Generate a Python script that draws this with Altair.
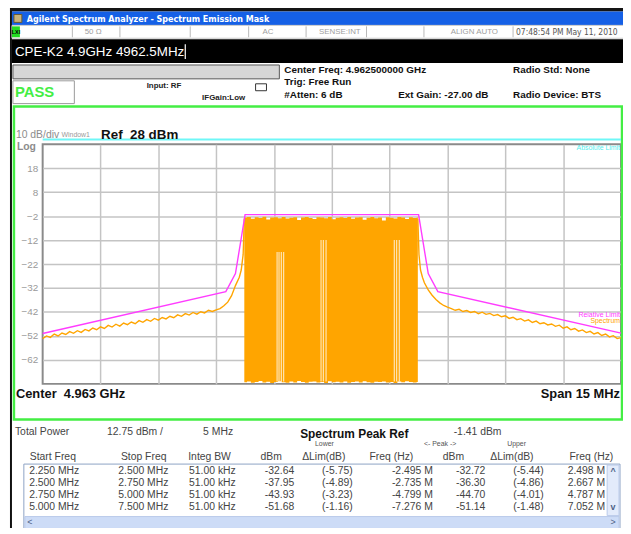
import altair as alt
import pandas as pd

# ---------------- data ----------------
# Relative limit mask (offset from centre in MHz, level in dBm)
mask_f = [-7.5, -2.75, -2.5, -2.25, 2.25, 2.5, 2.75, 7.5]
mask_db = [-51.0, -33.5, -26.0, -1.4, -1.4, -26.0, -33.5, -50.8]

# Absolute limit (drawn just above the top line)
abs_f = [-7.5, 7.5]
abs_db = [30.0, 30.0]

# Spectrum trace, lower side
left_f = [-7.5, -7.4, -7.3, -7.2, -7.1, -7.0, -6.9, -6.8, -6.7, -6.6, -6.5, -6.4, -6.3, -6.2, -6.1,
          -6.0, -5.9, -5.8, -5.7, -5.6, -5.5, -5.4, -5.3, -5.2, -5.1, -5.0, -4.9, -4.8, -4.7, -4.6,
          -4.5, -4.4, -4.3, -4.2, -4.1, -4.0, -3.9, -3.8, -3.7, -3.6, -3.5, -3.4, -3.3, -3.2, -3.1,
          -3.0, -2.9, -2.8, -2.7, -2.6, -2.5, -2.4, -2.35, -2.3, -2.27]
left_db = [-53.1, -52.0, -52.6, -51.2, -52.0, -50.8, -51.4, -50.2, -50.9, -49.8, -50.5, -49.3, -49.9, -48.7, -49.4,
           -48.2, -48.9, -47.6, -48.3, -47.1, -47.9, -46.6, -47.3, -46.2, -46.9, -45.6, -46.3, -45.2, -45.9, -44.7,
           -45.4, -44.3, -44.9, -43.8, -44.4, -43.2, -43.8, -42.7, -43.3, -42.2, -42.9, -41.9, -42.4, -41.3, -41.8,
           -41.1, -40.6, -39.4, -37.9, -35.2, -31.0, -27.5, -24.5, -18.0, -3.0]

# Spectrum trace, upper side
right_f = [2.23, 2.26, 2.3, 2.35, 2.4, 2.5, 2.6, 2.7, 2.8, 2.9, 3.0, 3.1,
           3.2, 3.3, 3.4, 3.5, 3.6, 3.7, 3.8, 3.9, 4.0, 4.1, 4.2, 4.3, 4.4, 4.5, 4.6, 4.7,
           4.8, 4.9, 5.0, 5.1, 5.2, 5.3, 5.4, 5.5, 5.6, 5.7, 5.8, 5.9, 6.0, 6.1, 6.2, 6.3,
           6.4, 6.5, 6.6, 6.7, 6.8, 6.9, 7.0, 7.1, 7.2, 7.3, 7.4, 7.5]
right_db = [-3.0, -18.0, -24.5, -27.5, -29.8, -32.8, -35.0, -36.8, -38.2, -39.3, -40.0, -40.6,
            -41.3, -40.9, -41.8, -41.4, -42.2, -41.8, -42.7, -42.1, -43.0, -42.6, -43.5, -43.1, -44.0, -43.6, -44.7, -44.2,
            -45.2, -44.8, -45.8, -45.3, -46.4, -45.8, -46.9, -46.5, -47.4, -47.0, -48.0, -47.5, -48.8, -48.2, -49.4, -48.9,
            -50.0, -49.5, -50.6, -50.1, -51.2, -50.6, -51.8, -51.2, -52.4, -51.9, -53.1, -52.7]

# In-band (occupied channel) envelope
inband_f = [-2.27, -2.2, -2.1, -2.0, -1.9, -1.8, -1.7, -1.6, -1.5, -1.4, -1.3, -1.2, -1.1, -1.0, -0.9, -0.8,
            -0.7, -0.6, -0.5, -0.4, -0.3, -0.2, -0.1, 0.0, 0.1, 0.2, 0.3, 0.4, 0.5, 0.6, 0.7, 0.8,
            0.9, 1.0, 1.1, 1.2, 1.3, 1.4, 1.5, 1.6, 1.7, 1.8, 1.9, 2.0, 2.1, 2.2, 2.23]
inband_top = [-2.6, -2.4, -3.1, -2.5, -2.8, -2.3, -3.4, -2.6, -2.5, -2.9, -2.4, -3.0, -2.7, -2.5, -3.6, -2.6,
              -2.4, -2.8, -3.2, -2.5, -2.6, -2.9, -2.4, -3.3, -2.7, -2.5, -2.8, -2.4, -3.1, -2.6, -2.5, -3.5,
              -2.7, -2.4, -2.9, -2.6, -3.8, -2.5, -2.7, -3.0, -2.4, -2.6, -3.2, -2.5, -2.8, -2.6, -2.6]
inband_bot = [-71.3, -71.0, -71.5, -71.2, -70.8, -71.4, -71.1, -71.6, -71.2, -70.9, -71.3, -71.5, -71.0, -71.4, -70.8, -71.2,
              -71.5, -71.1, -71.0, -71.4, -71.2, -71.6, -70.9, -71.3, -71.1, -71.4, -71.0, -71.5, -71.2, -71.0, -71.4, -70.9,
              -71.3, -71.5, -71.1, -71.2, -71.0, -71.4, -71.2, -71.6, -71.0, -71.3, -70.9, -71.2, -71.4, -71.2, -71.2]

# light stripes inside the burst
gap_f = [-1.42, -1.37, -1.31, -1.25, -0.28, -0.22, -0.15, 1.62, 1.68, 1.75]
gap_top = [-17.0, -17.0, -17.0, -17.0, -12.0, -12.0, -12.0, -12.0, -12.0, -12.0]

y_ticks = [18, 8, -2, -12, -22, -32, -42, -52, -62]
x_grid = [-6, -4.5, -3, -1.5, 0, 1.5, 3, 4.5, 6]

# Texts
NB = "\u00a0"
title_text = "Agilent Spectrum Analyzer - Spectrum Emission Mask"
status_texts = ["50 Ω", "AC", "SENSE:INT", "ALIGN AUTO", "07:48:54 PM May 11, 2010"]
name_text = "CPE-K2 4.9GHz 4962.5MHz"
info_texts = ["Center Freq: 4.962500000 GHz", "Trig: Free Run", "#Atten: 6 dB",
              "Ext Gain: -27.00 dB", "Radio Std: None", "Radio Device: BTS"]
table_head = ["Start Freq", "Stop Freq", "Integ BW", "dBm", "ΔLim(dB)", "Freq (Hz)", "dBm", "ΔLim(dB)", "Freq (Hz)"]
table_rows = [
    ["2.250 MHz", "2.500 MHz", "51.00 kHz", "-32.64", "(-5.75)", "-2.495 M", "-32.72", "(-5.44)", "2.498 M"],
    ["2.500 MHz", "2.750 MHz", "51.00 kHz", "-37.95", "(-4.89)", "-2.735 M", "-36.30", "(-4.86)", "2.667 M"],
    ["2.750 MHz", "5.000 MHz", "51.00 kHz", "-43.93", "(-3.23)", "-4.799 M", "-44.70", "(-4.01)", "4.787 M"],
    ["5.000 MHz", "7.500 MHz", "51.00 kHz", "-51.68", "(-1.16)", "-7.276 M", "-51.14", "(-1.48)", "7.052 M"],
]

# ---------------- helpers ----------------
SANS = "Liberation Sans, Arial, sans-serif"
NARROW = "Liberation Sans Narrow, DejaVu Sans Condensed, Liberation Sans, sans-serif"
ONE = pd.DataFrame({"k": [0]})
OX, OY = 43, 143           # page position of the plot origin
PW, PH = 584, 242          # plot area


def T(s, x, y, size=10, color="#000", weight="normal", align="left", font=SANS):
    return alt.Chart(ONE).mark_text(align=align, baseline="middle", fontSize=size, color=color,
                                    fontWeight=weight, font=font).encode(
        x=alt.value(x - OX), y=alt.value(y - OY), text=alt.value(s))


def R(x0, x1, y0, y1, fill="transparent", stroke="transparent", sw=1):
    return alt.Chart(ONE).mark_rect(fill=fill, stroke=stroke, strokeWidth=sw).encode(
        x=alt.value(x0 - OX), x2=alt.value(x1 - OX), y=alt.value(y0 - OY), y2=alt.value(y1 - OY))


def VL(x, y0, y1, color="#000", sw=1):
    return alt.Chart(ONE).mark_rule(color=color, strokeWidth=sw).encode(
        x=alt.value(x - OX), y=alt.value(y0 - OY), y2=alt.value(y1 - OY))


xs = alt.Scale(domain=[-7.5, 7.5], nice=False, zero=False)
ys = alt.Scale(domain=[-72, 28], nice=False, zero=False)
xaxis = alt.Axis(values=x_grid, grid=True, labels=False, ticks=False, domain=False, title=None,
                 gridColor="#c4c4c4", gridWidth=1.5)
yaxis = alt.Axis(values=y_ticks, grid=True, ticks=False, domain=False, title=None,
                 gridColor="#c4c4c4", gridWidth=1.5, labelColor="#9a9a9a", labelFontSize=10,
                 labelFont=SANS, labelPadding=5)


def X(field):
    return alt.X(field, type="quantitative", scale=xs, axis=xaxis)


def Y(field):
    return alt.Y(field, type="quantitative", scale=ys, axis=yaxis)


layers = []

# ---------- window chrome ----------
layers.append(R(10, 12, 5, 534, fill="#111111"))
layers.append(R(10, 631, 5, 9, fill="#151515"))
layers.append(R(12, 631, 9, 23, fill="#1560e6"))
layers.append(R(14, 22, 12, 20, fill="#c8b27a", stroke="#6b5a30"))
layers.append(T(title_text, 27, 16.5, size=9, color="#ffffff", weight="bold", font=NARROW))
layers.append(R(12, 631, 23, 36, fill="#ffffff", stroke="#c8c8c8"))
layers.append(R(12, 20, 24, 35, fill="#22dd22"))
layers.append(T("LXI", 16, 29.5, size=5.5, color="#000", weight="bold", align="center"))
for dx in [73, 121, 192, 251, 309, 370, 428, 518]:
    layers.append(VL(dx, 24, 35, color="#b8b8b8"))
layers.append(T(status_texts[0], 94, 30, size=8, color="#a0a0a0", align="center"))
layers.append(T(status_texts[1], 276, 30, size=8, color="#a0a0a0", align="right"))
layers.append(T(status_texts[2], 322, 30, size=8, color="#a0a0a0"))
layers.append(T(status_texts[3], 455, 30, size=8, color="#a0a0a0"))
layers.append(T(status_texts[4], 521, 30, size=8.5, color="#555555", font=NARROW))
layers.append(R(12, 631, 37, 61, fill="#000000"))
layers.append(T(name_text, 15, 49.5, size=13.5, color="#ffffff"))
layers.append(VL(187, 42, 57, color="#ffffff", sw=1.2))
layers.append(R(13, 282, 63, 77, fill="#d6d6d6", stroke="#555555"))
layers.append(R(13, 75, 79, 102, fill="#ffffff", stroke="#9a9a9a"))
layers.append(T("PASS", 15, 90.5, size=15, color="#44ee44", weight="bold"))
layers.append(T("Input: RF", 148, 84, size=8, color="#222", weight="bold"))
layers.append(T("IFGain:Low", 204, 96, size=8, color="#222", weight="bold"))
layers.append(R(258, 269, 82, 89, fill="#ffffff", stroke="#333333"))
layers.append(T(info_texts[0], 287, 68, size=10, color="#111", weight="bold"))
layers.append(T(info_texts[1], 287, 80, size=10, color="#111", weight="bold"))
layers.append(T(info_texts[2], 287, 93, size=10, color="#111", weight="bold"))
layers.append(T(info_texts[3], 402, 93, size=10, color="#111", weight="bold"))
layers.append(T(info_texts[4], 518, 68, size=10, color="#111", weight="bold"))
layers.append(T(info_texts[5], 518, 93, size=10, color="#111", weight="bold"))

# green measurement window border
layers.append(R(14, 628, 105, 421, stroke="#44ee44", sw=2.5))

# ---------- trace area ----------
abs_df = pd.DataFrame({"f": abs_f, "db": abs_db})
inb_df = pd.DataFrame({"f": inband_f, "top": inband_top, "bot": inband_bot})
gap_df = pd.DataFrame({"f": gap_f, "top": gap_top, "bot": [-71.0] * len(gap_f)})
left_df = pd.DataFrame({"f": left_f, "db": left_db})
right_df = pd.DataFrame({"f": right_f, "db": right_db})
mask_df = pd.DataFrame({"f": mask_f, "db": mask_db})

layers.append(alt.Chart(inb_df).mark_area(interpolate="step-after", color="#ffa500", opacity=1).encode(
    x=X("f"), y=Y("top"), y2="bot"))
layers.append(alt.Chart(gap_df).mark_rule(color="#ffffff", opacity=0.7, strokeWidth=1.2).encode(
    x=X("f"), y=Y("top"), y2="bot"))
layers.append(alt.Chart(left_df).mark_line(color="#ffa500", strokeWidth=1.4).encode(x=X("f"), y=Y("db")))
layers.append(alt.Chart(right_df).mark_line(color="#ffa500", strokeWidth=1.4).encode(x=X("f"), y=Y("db")))
layers.append(alt.Chart(mask_df).mark_line(color="#ff3cff", strokeWidth=1.4).encode(x=X("f"), y=Y("db")))
layers.append(alt.Chart(abs_df).mark_line(color="#6ff7f7", strokeWidth=2).encode(x=X("f"), y=Y("db")))

# trace annotations
layers.append(T("10 dB/div", 16, 134, size=10.5, color="#8c8c8c"))
layers.append(T("Window1", 62, 134, size=7, color="#9a9a9a"))
layers.append(T("Ref" + NB + NB + "28 dBm", 102, 133.5, size=13.5, color="#111", weight="bold"))
layers.append(T("Log", 17, 146, size=10.5, color="#8c8c8c", weight="bold"))
layers.append(T("Absolute Limit", 626, 147, size=7, color="#55eeee", align="right"))
layers.append(T("Relative Limit", 626, 315, size=7, color="#ff3cff", align="right"))
layers.append(T("Spectrum", 626, 322, size=7, color="#ffa500", align="right"))
layers.append(T("Center" + NB + NB + "4.963 GHz", 16, 395, size=13, color="#111", weight="bold"))
layers.append(T("Span 15 MHz", 626, 395, size=13, color="#111", weight="bold", align="right"))

# ---------- result table ----------
layers.append(T("Total Power", 15, 434, size=10.5, color="#444"))
layers.append(T("12.75 dBm /", 108, 434, size=10.5, color="#444"))
layers.append(T("5 MHz", 205, 434, size=10.5, color="#444"))
layers.append(T("Spectrum Peak Ref", 303, 435.5, size=12, color="#111", weight="bold"))
layers.append(T("-1.41 dBm", 458, 434, size=10.5, color="#444"))
layers.append(T("Lower", 318, 446, size=7, color="#555"))
layers.append(T("<- Peak ->", 428, 446, size=7, color="#555"))
layers.append(T("Upper", 512, 446, size=7, color="#555"))
head_x = [30, 122, 190, 263, 305, 373, 447, 495, 575]
for s, hx in zip(table_head, head_x):
    layers.append(T(s, hx, 459, size=10.5, color="#444"))
layers.append(R(24, 626, 466, 531, fill="#ffffff", stroke="#8da2c4"))
layers.append(R(613, 625, 467, 518, fill="#e3ebfb", stroke="#b9c9ea"))
layers.append(T("^", 619, 473, size=9, color="#4d6185", weight="bold", align="center"))
layers.append(T("v", 619, 509, size=9, color="#4d6185", weight="bold", align="center"))
layers.append(R(25, 625, 519, 531, fill="#cddcf7", stroke="#b9c9ea"))
layers.append(T("<", 30, 525, size=9, color="#4d6185", align="center"))
layers.append(T(">", 619, 525, size=9, color="#4d6185", align="center"))
col_right = [80, 170, 238, 297, 356, 437, 490, 549, 611]
row_y = [473, 485, 497, 509]
for row, ry in zip(table_rows, row_y):
    for s, cx in zip(row, col_right):
        layers.append(T(s, cx, ry, size=10.5, color="#444", align="right"))

W, H = 621, 520
chart = alt.layer(*layers).properties(
    width=PW, height=PH,
    padding={"left": OX - 8, "top": OY - 8, "right": W - (OX - 8) - PW, "bottom": H - (OY - 8) - PH},
    autosize=alt.AutoSizeParams(type="none"),
    background="#ffffff",
).configure_view(stroke="#8a8a8a", strokeWidth=2)

chart.save("out.html", embed_options={"renderer": "svg", "actions": False})
